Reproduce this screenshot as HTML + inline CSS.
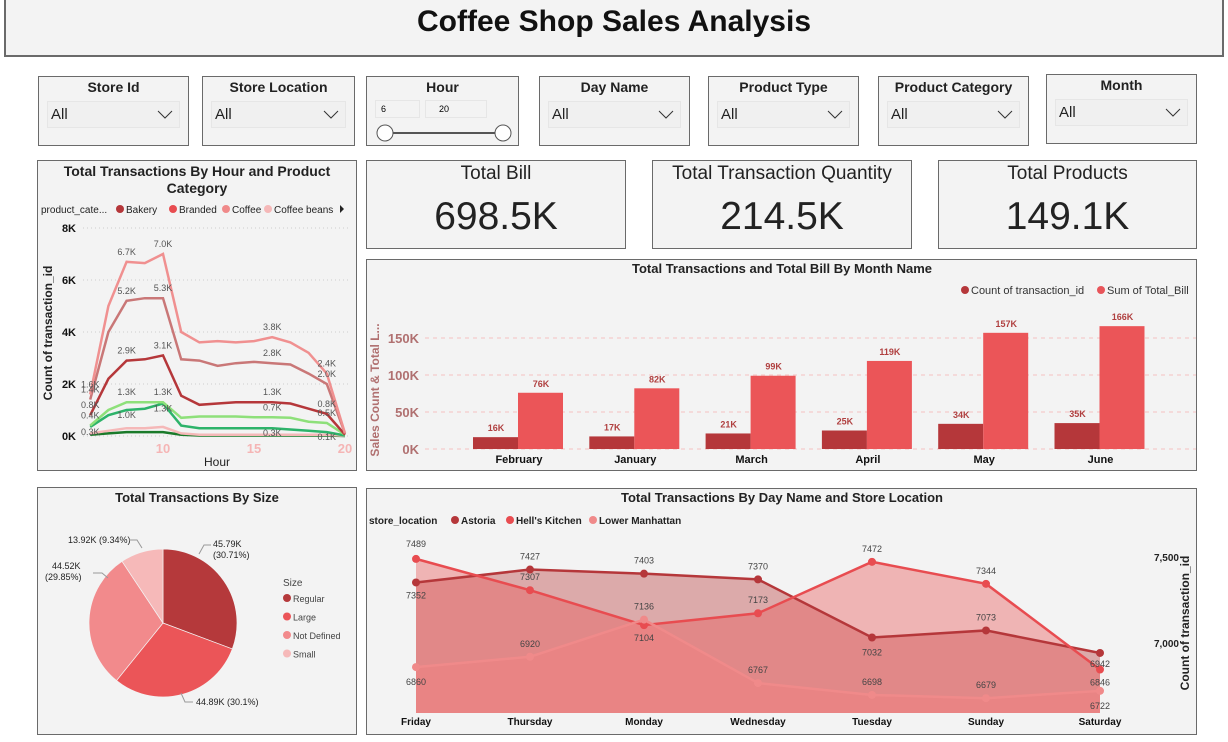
<!DOCTYPE html>
<html><head><meta charset="utf-8">
<style>
body{margin:0;width:1228px;height:742px;background:#fff;font-family:"Liberation Sans",sans-serif;position:relative;overflow:hidden}
.box{position:absolute;background:#f3f3f3;border:1px solid #6a6a6a;box-sizing:border-box}
.slt{position:absolute;left:0;right:0;top:2px;text-align:center;font-weight:bold;font-size:14px;color:#222}
.dd{position:absolute;left:8px;right:8px;top:24px;height:25px;background:#f0f0f0;border:1px solid #e6e6e6}
.dd span{position:absolute;left:3px;top:4px;font-size:15px;color:#222}
.dd svg{position:absolute;right:6px;top:8px}
.kt{position:absolute;left:0;right:0;top:2px;text-align:center;font-size:19px;color:#222}
.kv{position:absolute;left:0;right:0;top:34px;text-align:center;font-size:39px;color:#222}
svg text{font-family:"Liberation Sans",sans-serif}
</style></head><body>
<div class="box" style="left:4px;top:-2px;width:1220px;height:59px;border-width:2px">
<div style="text-align:center;font-weight:bold;font-size:30px;margin-top:5px;color:#111">Coffee Shop Sales Analysis</div></div>

<div class="box" style="left:38px;top:76px;width:151px;height:70px"><div class="slt">Store Id</div><div class="dd"><span>All</span><svg width="16" height="9"><polyline points="1,1 8,8 15,1" fill="none" stroke="#333"/></svg></div></div>
<div class="box" style="left:202px;top:76px;width:153px;height:70px"><div class="slt">Store Location</div><div class="dd"><span>All</span><svg width="16" height="9"><polyline points="1,1 8,8 15,1" fill="none" stroke="#333"/></svg></div></div>
<div class="box" style="left:366px;top:76px;width:153px;height:70px"><div class="slt">Hour</div>
<div style="position:absolute;left:8px;top:23px;width:45px;height:18px;border:1px solid #e6e6e6;font-size:9px;padding:3px 0 0 5px;box-sizing:border-box">6</div>
<div style="position:absolute;left:58px;top:23px;width:62px;height:18px;border:1px solid #e6e6e6;font-size:9px;padding:3px 0 0 13px;box-sizing:border-box">20</div>
<svg style="position:absolute;left:8px;top:46px" width="140" height="20"><line x1="10" y1="10" x2="128" y2="10" stroke="#555" stroke-width="2"/><circle cx="10" cy="10" r="8" fill="#fff" stroke="#555"/><circle cx="128" cy="10" r="8" fill="#fff" stroke="#555"/></svg></div>
<div class="box" style="left:539px;top:76px;width:151px;height:70px"><div class="slt">Day Name</div><div class="dd"><span>All</span><svg width="16" height="9"><polyline points="1,1 8,8 15,1" fill="none" stroke="#333"/></svg></div></div>
<div class="box" style="left:708px;top:76px;width:151px;height:70px"><div class="slt">Product Type</div><div class="dd"><span>All</span><svg width="16" height="9"><polyline points="1,1 8,8 15,1" fill="none" stroke="#333"/></svg></div></div>
<div class="box" style="left:878px;top:76px;width:151px;height:70px"><div class="slt">Product Category</div><div class="dd"><span>All</span><svg width="16" height="9"><polyline points="1,1 8,8 15,1" fill="none" stroke="#333"/></svg></div></div>
<div class="box" style="left:1046px;top:74px;width:151px;height:70px"><div class="slt">Month</div><div class="dd"><span>All</span><svg width="16" height="9"><polyline points="1,1 8,8 15,1" fill="none" stroke="#333"/></svg></div></div>

<div class="box" style="left:366px;top:160px;width:260px;height:89px"><div class="kt">Total Bill</div><div class="kv">698.5K</div></div>
<div class="box" style="left:652px;top:160px;width:260px;height:89px"><div class="kt">Total Transaction Quantity</div><div class="kv">214.5K</div></div>
<div class="box" style="left:938px;top:160px;width:259px;height:89px"><div class="kt">Total Products</div><div class="kv">149.1K</div></div>

<div class="box" style="left:37px;top:160px;width:320px;height:311px"><svg id="lc" width="318" height="309" style="position:absolute;left:0;top:0"></svg></div>
<div class="box" style="left:366px;top:259px;width:831px;height:212px"><svg id="bc" width="829" height="210" style="position:absolute;left:0;top:0"></svg></div>
<div class="box" style="left:37px;top:487px;width:320px;height:248px"><svg id="pc" width="318" height="246" style="position:absolute;left:0;top:0"></svg></div>
<div class="box" style="left:366px;top:488px;width:831px;height:247px"><svg id="ac" width="829" height="245" style="position:absolute;left:0;top:0"></svg></div>

<script>
const NS="http://www.w3.org/2000/svg";
function mk(svg,tag,attrs,txt){const e=document.createElementNS(NS,tag);for(const k in attrs)e.setAttribute(k,attrs[k]);if(txt!==undefined)e.textContent=txt;svg.appendChild(e);return e;}

// ===== Line chart data =====
const hours=[6,7,8,9,10,11,12,13,14,15,16,17,18,19,20];
const coffeeVals=[1.6,5.0,6.7,6.65,7.0,4.0,3.6,3.65,3.6,3.65,3.8,3.6,3.2,2.4,0.1];
const teaVals=[1.4,4.0,5.2,5.3,5.3,2.95,2.9,2.7,2.8,2.85,2.8,2.75,2.4,2.0,0.1];
const bakeryVals=[0.8,2.2,2.9,2.95,3.1,1.55,1.2,1.25,1.3,1.3,1.3,1.25,1.05,0.85,0.05];
const drinkVals=[0.4,1.0,1.3,1.3,1.3,0.7,0.75,0.75,0.75,0.72,0.72,0.7,0.55,0.5,0.05];
const chocVals=[0.35,0.8,1.0,1.05,1.25,0.4,0.3,0.3,0.3,0.3,0.3,0.25,0.2,0.15,0.02];
const beansVals=[0.1,0.2,0.3,0.3,0.35,0.1,0.05,0.05,0.05,0.05,0.05,0.05,0.05,0.05,0.01];
const brandedVals=[0.05,0.1,0.15,0.15,0.15,0.05,0.02,0.02,0.02,0.02,0.02,0.02,0.02,0.02,0.0];
const lcTicks=[0,2,4,6,8];
(function(){
const s=document.getElementById('lc');
const X=h=>125+(h-10)*18.2, Y=v=>275-v*26;
mk(s,'text',{x:159,y:15,'text-anchor':'middle','font-size':14,'font-weight':'bold',fill:'#222'},'Total Transactions By Hour and Product');
mk(s,'text',{x:159,y:32,'text-anchor':'middle','font-size':14,'font-weight':'bold',fill:'#222'},'Category');
const lg=mk(s,'g',{});
mk(lg,'text',{x:3,y:52,'font-size':10,fill:'#222'},'product_cate...');
[['Bakery','#b5373a',78],['Branded','#e84c50',131],['Coffee','#f08a8a',184],['Coffee beans','#f5b8b8',226]].forEach(([n,c,x])=>{mk(lg,'circle',{cx:x+4,cy:48,r:4,fill:c});mk(lg,'text',{x:x+10,y:52,'font-size':10,fill:'#222'},n);});
mk(lg,'path',{d:'M302,44 L306,48 L302,52 Z',fill:'#222'});
lcTicks.forEach(t=>{mk(s,'line',{x1:45,x2:312,y1:Y(t),y2:Y(t),stroke:'#ccc','stroke-dasharray':'1,3'});mk(s,'text',{x:38,y:Y(t)+4,'text-anchor':'end','font-size':11,'font-weight':'bold',fill:'#111'},t+'K');});
[10,15,20].forEach(h=>mk(s,'text',{x:X(h),y:292,'text-anchor':'middle','font-size':13,'font-weight':'bold',fill:'#f5b5b5'},h));
mk(s,'text',{x:179,y:305,'text-anchor':'middle','font-size':12,fill:'#222'},'Hour');
mk(s,'text',{x:0,y:0,'text-anchor':'middle','font-size':12,'font-weight':'bold',fill:'#222',transform:'translate(14,172) rotate(-90)'},'Count of transaction_id');
const series=[[brandedVals,'#1a7a2a','branded'],[beansVals,'#f5b8b8','coffee-beans'],[chocVals,'#2db36a','drinking-chocolate'],[drinkVals,'#8ee07a','flavours'],[bakeryVals,'#b5373a','bakery'],[teaVals,'#c97777','tea'],[coffeeVals,'#f09090','coffee']];
series.forEach(([vals,c,n])=>{const p=mk(s,'polyline',{points:vals.map((v,i)=>X(hours[i])+','+Y(v)).join(' '),fill:'none',stroke:c,'stroke-width':2.5});});
const lblIdx=[0,2,4,10,13];
[[coffeeVals,-7],[teaVals,-7],[bakeryVals,-7],[drinkVals,-7],[chocVals,8]].forEach(([vals,dy])=>{lblIdx.forEach(i=>mk(s,'text',{x:X(hours[i]),y:Y(vals[i])+dy,'text-anchor':'middle','font-size':9,fill:'#555'},vals[i].toFixed(1)+'K'));});
})();

// ===== Bar chart data =====
const months=['February','January','March','April','May','June'];
const countVals=[16,17,21,25,34,35];
const billVals=[76,82,99,119,157,166];
const bcTicks=[0,50,100,150];
(function(){
const s=document.getElementById('bc');
const Y=v=>189-v*0.74, X=i=>152+i*116.3;
mk(s,'text',{x:415,y:13,'text-anchor':'middle','font-size':13,'font-weight':'bold',fill:'#222'},'Total Transactions and Total Bill By Month Name');
mk(s,'circle',{cx:598,cy:30,r:4,fill:'#b5373a'});mk(s,'text',{x:604,y:34,'font-size':11,fill:'#333'},'Count of transaction_id');
mk(s,'circle',{cx:734,cy:30,r:4,fill:'#e8555a'});mk(s,'text',{x:740,y:34,'font-size':11,fill:'#333'},'Sum of Total_Bill');
bcTicks.forEach(t=>{mk(s,'line',{x1:58,x2:829,y1:Y(t),y2:Y(t),stroke:'#f5c0c0','stroke-dasharray':'4,4'});mk(s,'text',{x:52,y:Y(t)+5,'text-anchor':'end','font-size':13,'font-weight':'bold',fill:'#b07070'},t+'K');});
mk(s,'text',{x:0,y:0,'text-anchor':'middle','font-size':12,'font-weight':'bold',fill:'#b07070',transform:'translate(12,130) rotate(-90)'},'Sales Count & Total L...');
months.forEach((m,i)=>{const cx=X(i);
const a=mk(s,'rect',{x:cx-46,y:Y(countVals[i]),width:45,height:countVals[i]*0.74,fill:'#b5373a'});
const b=mk(s,'rect',{x:cx-1,y:Y(billVals[i]),width:45,height:billVals[i]*0.74,fill:'#eb5558'});
mk(s,'text',{x:cx-23,y:Y(countVals[i])-6,'text-anchor':'middle','font-size':9,'font-weight':'bold',fill:'#b04040'},countVals[i]+'K');
mk(s,'text',{x:cx+22,y:Y(billVals[i])-6,'text-anchor':'middle','font-size':9,'font-weight':'bold',fill:'#b04040'},billVals[i]+'K');
mk(s,'text',{x:cx,y:203,'text-anchor':'middle','font-size':11,'font-weight':'bold',fill:'#111'},m);});
})();

// ===== Pie data =====
const sizes=['Regular','Large','Not Defined','Small'];
const sizeVals=[45.79,44.89,44.52,13.92];
const sizePct=['30.71%','30.1%','29.85%','9.34%'];
(function(){
const s=document.getElementById('pc');
const cols=['#b5393b','#eb5558','#f28a8c','#f6b9b9'];
mk(s,'text',{x:159,y:14,'text-anchor':'middle','font-size':13,'font-weight':'bold',fill:'#222'},'Total Transactions By Size');
const cx=125,cy=135,r=74;const tot=sizeVals.reduce((a,b)=>a+b,0);let a0=-Math.PI/2;
sizeVals.forEach((v,i)=>{const a1=a0+v/tot*2*Math.PI;const L=(a1-a0)>Math.PI?1:0;
const p=mk(s,'path',{d:`M${cx},${cy} L${cx+r*Math.cos(a0)},${cy+r*Math.sin(a0)} A${r},${r} 0 ${L} 1 ${cx+r*Math.cos(a1)},${cy+r*Math.sin(a1)} Z`,fill:cols[i],stroke:'#f3f3f3','stroke-width':0.7});
a0=a1;});
const lb=[[175,59,sizeVals[0]+'K',' ('+sizePct[0]+')',true],[158,159,sizeVals[1]+'K ('+sizePct[1]+')','',false],[5,87,sizeVals[2]+'K',' ('+sizePct[2]+')',true],[30,55,sizeVals[3]+'K ('+sizePct[3]+')','',false]];
mk(s,'text',{x:175,y:59,'font-size':9,fill:'#222'},sizeVals[0]+'K');mk(s,'text',{x:175,y:70,'font-size':9,fill:'#222'},'('+sizePct[0]+')');
mk(s,'text',{x:158,y:217,'font-size':9,fill:'#222'},sizeVals[1]+'K ('+sizePct[1]+')');
mk(s,'text',{x:14,y:81,'font-size':9,fill:'#222'},sizeVals[2]+'K');mk(s,'text',{x:7,y:92,'font-size':9,fill:'#222'},'('+sizePct[2]+')');
mk(s,'text',{x:30,y:55,'font-size':9,fill:'#222'},sizeVals[3]+'K ('+sizePct[3]+')');
mk(s,'polyline',{points:'173,57 166,57 161,66',fill:'none',stroke:'#999'});
mk(s,'polyline',{points:'155,214 147,214 143,205',fill:'none',stroke:'#999'});
mk(s,'polyline',{points:'55,85 64,85 70,90',fill:'none',stroke:'#999'});
mk(s,'polyline',{points:'91,52 99,52 104,60',fill:'none',stroke:'#999'});
mk(s,'text',{x:245,y:98,'font-size':10,fill:'#444'},'Size');
sizes.forEach((n,i)=>{mk(s,'circle',{cx:249,cy:110+i*18.5,r:4,fill:cols[i]});mk(s,'text',{x:255,y:114+i*18.5,'font-size':9,fill:'#444'},n);});
})();

// ===== Area chart data =====
const days=['Friday','Thursday','Monday','Wednesday','Tuesday','Sunday','Saturday'];
const astoriaVals=[7352,7427,7403,7370,7032,7073,6942];
const hellsVals=[7489,7307,7104,7173,7472,7344,6846];
const lowerVals=[6860,6920,7136,6767,6698,6679,6722];
const acTicks=[7000,7500];
(function(){
const s=document.getElementById('ac');
const X=i=>49+i*114, Y=v=>154-(v-7000)*0.172, base=224;
mk(s,'text',{x:415,y:13,'text-anchor':'middle','font-size':13,'font-weight':'bold',fill:'#222'},'Total Transactions By Day Name and Store Location');
mk(s,'text',{x:2,y:35,'font-size':10,'font-weight':'bold',fill:'#222'},'store_location');
[['Astoria','#b5373a',84],["Hell's Kitchen",'#e84c50',139],['Lower Manhattan','#f08a8a',222]].forEach(([n,c,x])=>{mk(s,'circle',{cx:x+4,cy:31,r:4,fill:c});mk(s,'text',{x:x+10,y:35,'font-size':10,'font-weight':'bold',fill:'#222'},n);});
acTicks.forEach(t=>mk(s,'text',{x:812,y:Y(t)+4,'text-anchor':'end','font-size':10,'font-weight':'bold',fill:'#222'},t.toLocaleString('en-US')));
mk(s,'text',{x:0,y:0,'text-anchor':'middle','font-size':12,'font-weight':'bold',fill:'#222',transform:'translate(822,134) rotate(-90)'},'Count of transaction_id');
const sets=[[astoriaVals,'#b5373a','rgba(185,60,60,0.4)','astoria'],[hellsVals,'#e84c50','rgba(232,85,85,0.4)','hells-kitchen'],[lowerVals,'#f08a8a','rgba(240,130,130,0.55)','lower-manhattan']];
sets.forEach(([v,c,f,n])=>{const pts=v.map((d,i)=>X(i)+','+Y(d)).join(' ');
const a=mk(s,'polygon',{points:X(0)+','+base+' '+pts+' '+X(6)+','+base,fill:f});});
sets.forEach(([v,c,f,n])=>{const l=mk(s,'polyline',{points:v.map((d,i)=>X(i)+','+Y(d)).join(' '),fill:'none',stroke:c,'stroke-width':2.5});
v.forEach((d,i)=>mk(s,'circle',{cx:X(i),cy:Y(d),r:4,fill:c}));});
const lab=(i,v,dy)=>mk(s,'text',{x:X(i),y:Y(v)+dy,'text-anchor':'middle','font-size':9,fill:'#444'},v);
astoriaVals.forEach((v,i)=>lab(i,v,[16,-10,-10,-10,18,-10,14][i]));
hellsVals.forEach((v,i)=>lab(i,v,[-12,-10,16,-10,-10,-10,16][i]));
lowerVals.forEach((v,i)=>lab(i,v,[18,-10,-10,-10,-10,-10,18][i]));
days.forEach((d,i)=>mk(s,'text',{x:X(i),y:236,'text-anchor':'middle','font-size':10,'font-weight':'bold',fill:'#111'},d));
})();
</script>
</body></html>
